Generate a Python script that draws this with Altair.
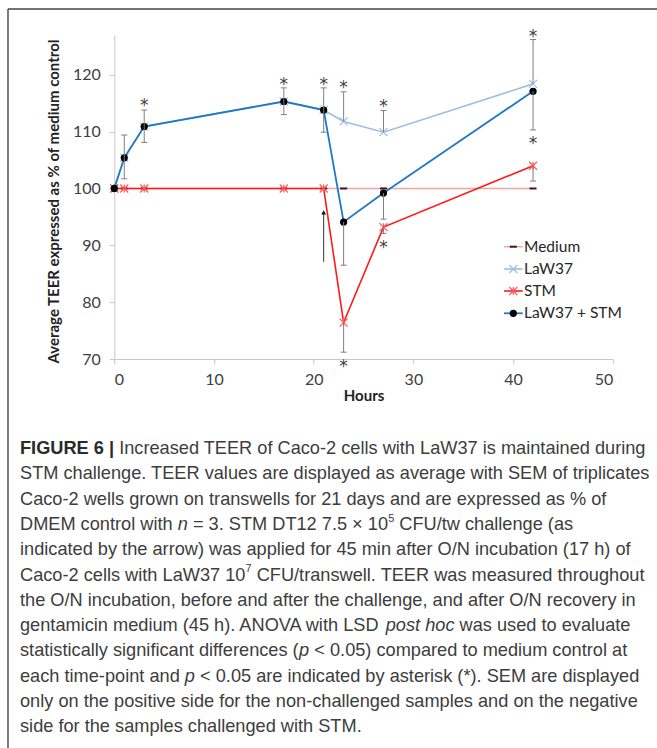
import altair as alt
import pandas as pd

# ---------------- data ----------------
hours = [0, 1, 3, 17, 21, 23, 27, 42]
medium = [100, 100, 100, 100, 100, 100, 100, 100]
law37 = [100, 105.4, 110.9, 115.3, 113.8, 111.8, 109.9, 118.4]
stm = [100, 100, 100, 100, 100, 76.4, 93.2, 104.0]
law37_stm = [100, 105.4, 110.9, 115.3, 113.8, 94.1, 99.2, 117.1]

law37_sem_pos = [0, 4.0, 2.9, 2.4, 3.9, 5.2, 3.8, 7.8]
law37_stm_sem_neg = [0, 3.7, 2.8, 2.3, 3.9, 7.6, 4.6, 6.8]
stm_sem_neg = [0, 0, 0, 0, 0, 5.2, 1.1, 2.7]

star_hours = [3, 17, 21, 23, 23, 27, 27, 42, 42]
star_values = [115.4, 119.1, 119.1, 118.5, 69.5, 115.2, 90.4, 127.6, 108.7]

arrow_hour = [21]
arrow_from = [87.1]
arrow_to = [95.8]

series_names = ["Medium", "LaW37", "STM", "LaW37 + STM"]
x_ticks = [0, 10, 20, 30, 40, 50]
y_ticks = [70, 80, 90, 100, 110, 120]

caption_lines = [
    [("FIGURE 6 |", "b"), (" Increased TEER of Caco-2 cells with LaW37 is maintained during", "r")],
    [("STM challenge. TEER values are displayed as average with SEM of triplicates", "r")],
    [("Caco-2 wells grown on transwells for 21 days and are expressed as % of", "r")],
    [("DMEM control with ", "r"), ("n", "i"), (" = 3. STM DT12 7.5 \u00d7 10", "r"), ("5", "sup"),
     (" CFU/tw challenge (as", "r")],
    [("indicated by the arrow) was applied for 45 min after O/N incubation (17 h) of", "r")],
    [("Caco-2 cells with LaW37 10", "r"), ("7", "sup"), (" CFU/transwell. TEER was measured throughout", "r")],
    [("the O/N incubation, before and after the challenge, and after O/N recovery in", "r")],
    [("gentamicin medium (45 h). ANOVA with LSD ", "r"), ("post hoc", "i"), (" was used to evaluate", "r")],
    [("statistically significant differences (", "r"), ("p", "i"), (" < 0.05) compared to medium control at", "r")],
    [("each time-point and ", "r"), ("p", "i"), (" < 0.05 are indicated by asterisk (*). SEM are displayed", "r")],
    [("only on the positive side for the non-challenged samples and on the negative", "r")],
    [("side for the samples challenged with STM.", "r")],
]

# ---------------- layout constants ----------------
W, H = 498.5, 324
OX, OY = 114.3, 35  # plot origin in page pixels
FONT = "Lato"
CAP_FONT = "Liberation Sans"

# Arial / Liberation Sans advance widths (1/1000 em)
AW = {" ": 278, ".": 278, ",": 278, "(": 333, ")": 333, "-": 333, "/": 278, "=": 584, "<": 584,
      "\u00d7": 584, "*": 389, "|": 260, "%": 889, ":": 278}
for c, w in zip("abcdefghijklmnopqrstuvwxyz",
                [556, 556, 500, 556, 556, 278, 556, 556, 222, 222, 500, 222, 833, 556, 556, 556, 556,
                 333, 500, 278, 556, 500, 722, 500, 500, 500]):
    AW[c] = w
for c, w in zip("ABCDEFGHIJKLMNOPQRSTUVWXYZ",
                [667, 667, 722, 722, 667, 611, 778, 722, 278, 500, 667, 556, 833, 722, 778, 667, 778,
                 722, 667, 611, 722, 667, 944, 667, 667, 611]):
    AW[c] = w
for c in "0123456789":
    AW[c] = 556
BW = dict(AW)
BW.update({"F": 611, "I": 278, "G": 778, "U": 722, "R": 722, "E": 667, "|": 280, " ": 278})
KERN = {"AV": -74, "VA": -74, "Te": -111, "Ta": -111}


def em_width(s, style):
    table = BW if style == "b" else AW
    k = 0.6 if style == "sup" else 1.0
    total = sum(table.get(ch, 556) for ch in s)
    total += sum(KERN.get(s[j:j + 2], 0) for j in range(len(s) - 1))
    return total / 1000.0 * k


ref_line = caption_lines[5]
ref_em = sum(em_width(t, st) for t, st in ref_line)
CAP_FS = 625.0 / ref_em

cap_rows = []
for i, line in enumerate(caption_lines):
    xpos = 20.0
    ypos = 449.0 + 25.3 * i
    for text, st in line:
        lead = len(text) - len(text.lstrip(" "))
        xs = xpos + em_width(" " * lead, st) * CAP_FS
        cap_rows.append({"text": text.strip(" "), "cx": xs - OX, "cy": ypos - OY, "style": st})
        xpos += em_width(text, st) * CAP_FS
cap_df = pd.DataFrame(cap_rows)

# ---------------- data frames ----------------
series_values = {"Medium": medium, "LaW37": law37, "STM": stm, "LaW37 + STM": law37_stm}
long_rows = []
for name in series_names:
    for h, v in zip(hours, series_values[name]):
        long_rows.append({"hour": h, "value": v, "series": name})
df = pd.DataFrame(long_rows)

err_rows = []
for h, v, s in zip(hours, law37, law37_sem_pos):
    if s > 0:
        err_rows.append({"hour": h, "lo": v, "hi": v + s, "end": v + s})
for h, v, s in zip(hours, law37_stm, law37_stm_sem_neg):
    if s > 0:
        err_rows.append({"hour": h, "lo": v - s, "hi": v, "end": v - s})
for h, v, s in zip(hours, stm, stm_sem_neg):
    if s > 0:
        err_rows.append({"hour": h, "lo": v - s, "hi": v, "end": v - s})
err_df = pd.DataFrame(err_rows)

star_df = pd.DataFrame({"hour": star_hours, "value": star_values})
arrow_df = pd.DataFrame({"hour": arrow_hour, "lo": arrow_from, "hi": arrow_to})

# ---------------- encodings ----------------
xscale = alt.Scale(domain=[0, 50], nice=False)
yscale = alt.Scale(domain=[70, 127], nice=False, zero=False)
AXIS_COLOR = "#c8c8c8"
LABEL_COLOR = "#404040"

x_axis = alt.Axis(values=x_ticks, grid=False, domainColor=AXIS_COLOR, tickColor=AXIS_COLOR, tickSize=5,
                  labelFont=FONT, labelFontSize=16, labelColor=LABEL_COLOR, labelPadding=7,
                  title="Hours", titleFont=FONT, titleFontSize=15, titleFontWeight="bold",
                  titleColor="#222222", titleX=W / 2, titleY=395 - (OY + H), titleBaseline="middle")
y_axis = alt.Axis(values=y_ticks, grid=False, domainColor=AXIS_COLOR, tickColor=AXIS_COLOR, tickSize=5,
                  labelFont=FONT, labelFontSize=16, labelColor=LABEL_COLOR, labelPadding=9,
                  title="Average TEER expressed as % of medium control", titleFont=FONT,
                  titleFontSize=15, titleFontWeight="bold", titleColor="#222222",
                  titleX=53 - OX, titleY=(201 - OY), titleAngle=-90, titleAlign="center",
                  titleBaseline="middle")


def X(field):
    return alt.X(field, type="quantitative", scale=xscale, axis=x_axis)


def Y(field):
    return alt.Y(field, type="quantitative", scale=yscale, axis=y_axis)


X_PATH = "M-1,-1L1,1M-1,1L1,-1"
STAR_PATH = "M-1,-1L1,1M-1,1L1,-1M0,-1L0,1"
DASH_PATH = "M-1,0L1,0"
CAP_PATH = "M-1,0L1,0"

styles = {
    "Medium": dict(line="#f3a3a3", lw=1.5, kind="path", shape=DASH_PATH, mcolor="#3a1a1a", msize=49, msw=2),
    "LaW37": dict(line="#9dbfe3", lw=1.6, kind="path", shape=X_PATH, mcolor="#9dbfe3", msize=64, msw=1.2),
    "STM": dict(line="#ff1a1a", lw=1.6, kind="path", shape=STAR_PATH, mcolor="#ff5a5a", msize=64, msw=1.2),
    "LaW37 + STM": dict(line="#1f78c8", lw=1.8, kind="circle", mcolor="#000000", msize=52),
}

legend_y = {"Medium": 246.7, "LaW37": 269.0, "STM": 291.0, "LaW37 + STM": 313.3}

layers = []
one = pd.DataFrame({"a": [0]})

# frame lines
layers.append(alt.Chart(one).mark_rule(color="#444444", strokeWidth=1.4).encode(
    x=alt.value(8 - OX), y=alt.value(9 - OY), y2=alt.value(748 - OY + 5)))
layers.append(alt.Chart(one).mark_rule(color="#444444", strokeWidth=1.4).encode(
    x=alt.value(8 - OX), x2=alt.value(657 - OX + 5), y=alt.value(9 - OY)))

# series lines and markers
for name in series_names:
    st = styles[name]
    sdf = df[df["series"] == name]
    layers.append(alt.Chart(sdf).mark_line(color=st["line"], strokeWidth=st["lw"]).encode(
        x=X("hour"), y=Y("value")))
    if st["kind"] == "circle":
        layers.append(alt.Chart(sdf).mark_circle(color=st["mcolor"], size=st["msize"], opacity=1).encode(
            x=X("hour"), y=Y("value")))
    else:
        layers.append(alt.Chart(sdf).mark_point(shape=st["shape"], filled=False, color=st["mcolor"],
                                                size=st["msize"], strokeWidth=st["msw"], opacity=1).encode(
            x=X("hour"), y=Y("value")))

# error bars
layers.append(alt.Chart(err_df).mark_rule(color="#7f7f7f", strokeWidth=1).encode(
    x=X("hour"), y=Y("lo"), y2="hi"))
layers.append(alt.Chart(err_df).mark_point(shape=CAP_PATH, filled=False, color="#7f7f7f", size=36,
                                           strokeWidth=1, opacity=1).encode(x=X("hour"), y=Y("end")))

# asterisks
layers.append(alt.Chart(star_df).mark_text(text="*", font="DejaVu Sans", fontSize=17, color="#404040",
                                           baseline="middle", dy=5).encode(x=X("hour"), y=Y("value")))

# arrow
layers.append(alt.Chart(arrow_df).mark_rule(color="#333333", strokeWidth=1).encode(
    x=X("hour"), y=Y("lo"), y2="hi"))
layers.append(alt.Chart(arrow_df).mark_point(shape="triangle-up", filled=True, color="#111111", size=22,
                                             opacity=1).encode(x=X("hour"), y=Y("hi")))

# legend
for name in series_names:
    st = styles[name]
    ly = legend_y[name] - OY
    ldf = pd.DataFrame({"name": [name], "ly": [ly]})
    layers.append(alt.Chart(ldf).mark_rule(color=st["line"], strokeWidth=st["lw"]).encode(
        x=alt.value(504 - OX), x2=alt.value(522.7 - OX), y=alt.Y("ly:Q", scale=None)))
    if st["kind"] == "circle":
        layers.append(alt.Chart(ldf).mark_circle(color=st["mcolor"], size=st["msize"], opacity=1).encode(
            x=alt.value(513.3 - OX), y=alt.Y("ly:Q", scale=None)))
    else:
        layers.append(alt.Chart(ldf).mark_point(shape=st["shape"], filled=False, color=st["mcolor"],
                                                size=st["msize"], strokeWidth=st["msw"], opacity=1).encode(
            x=alt.value(513.3 - OX), y=alt.Y("ly:Q", scale=None)))
    layers.append(alt.Chart(ldf).mark_text(font=FONT, fontSize=15.5, color="#262626", align="left",
                                           baseline="middle").encode(
        x=alt.value(524 - OX), y=alt.Y("ly:Q", scale=None), text="name:N"))

# caption
cap_style = {
    "r": dict(fontWeight="normal", fontStyle="normal", fontSize=CAP_FS, dy=0, color="#3d3d3d"),
    "b": dict(fontWeight="bold", fontStyle="normal", fontSize=CAP_FS, dy=0, color="#2a2a2a"),
    "i": dict(fontWeight="normal", fontStyle="italic", fontSize=CAP_FS, dy=0, color="#3d3d3d"),
    "sup": dict(fontWeight="normal", fontStyle="normal", fontSize=CAP_FS * 0.6, dy=-CAP_FS * 0.35,
                color="#3d3d3d"),
}
for st_name, st in cap_style.items():
    sub = cap_df[cap_df["style"] == st_name]
    if len(sub) == 0:
        continue
    layers.append(alt.Chart(sub).mark_text(font=CAP_FONT, align="left", baseline="middle",
                                           fontSize=st["fontSize"], fontWeight=st["fontWeight"],
                                           fontStyle=st["fontStyle"], dy=st["dy"], color=st["color"]).encode(
        x=alt.X("cx:Q", scale=None), y=alt.Y("cy:Q", scale=None), text="text:N"))

chart = alt.layer(*layers).properties(
    width=W, height=H,
    padding={"left": OX, "top": OY, "right": 657 - OX - W, "bottom": 748 - OY - H},
    autosize=alt.AutoSizeParams(type="none"),
    background="white",
).configure_view(stroke=None)

chart.save("out.html", embed_options={"renderer": "svg", "actions": False})
